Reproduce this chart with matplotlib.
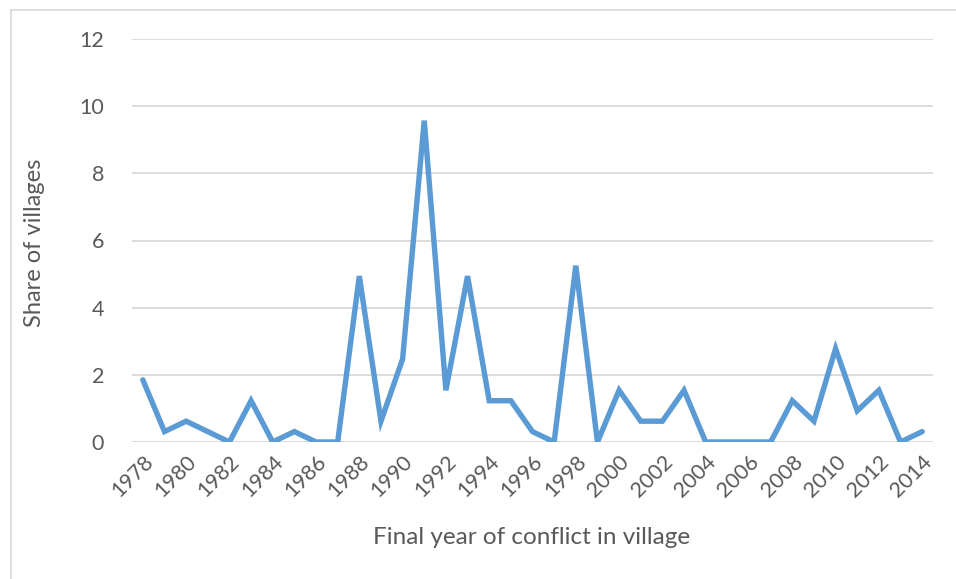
import matplotlib
matplotlib.use("Agg")
import matplotlib.pyplot as plt
from matplotlib.patches import Rectangle

years = list(range(1978, 2015))
share = [1.85, 0.31, 0.62, 0.31, 0.0, 1.23, 0.0, 0.31, 0.0, 0.0,
         4.94, 0.62, 2.47, 9.57, 1.54, 4.94, 1.23, 1.23, 0.31, 0.0,
         5.25, 0.0, 1.54, 0.62, 0.62, 1.54, 0.0, 0.0, 0.0, 0.0,
         1.23, 0.62, 2.78, 0.93, 1.54, 0.0, 0.31]
y_ticks = [0, 2, 4, 6, 8, 10, 12]
x_tick_years = years[::2]

plt.rcParams['font.family'] = ['Lato', 'DejaVu Sans']
text_color = '#595959'

fig = plt.figure(figsize=(9.56, 5.79), dpi=100)
fig.patch.set_facecolor('white')

# chart frame
fig.patches.append(Rectangle((11 / 956, -0.1), 1.2, 1 - 10 / 579 + 0.1,
                             transform=fig.transFigure, fill=False,
                             edgecolor='#d9d9d9', linewidth=1.2))

ax = fig.add_axes([132 / 956, 1 - 442 / 579, (933 - 132) / 956, (442 - 39) / 579])
ax.plot(years, share, color='#5b9bd5', linewidth=3.9,
        solid_joinstyle='miter', solid_capstyle='round', zorder=3)

ax.set_xlim(1977.5, 2014.5)
ax.set_ylim(0, 12)
ax.set_yticks(y_ticks)
ax.set_yticklabels([str(v) for v in y_ticks], fontsize=15.5, color=text_color)
ax.set_xticks(x_tick_years)
ax.set_xticklabels([str(y) for y in x_tick_years], rotation=45, ha='right',
                   rotation_mode='anchor', fontsize=15.5, color=text_color)
ax.tick_params(axis='both', length=0)
ax.tick_params(axis='y', pad=20)
ax.tick_params(axis='x', pad=7)

ax.grid(axis='y', color='#d9d9d9', linewidth=1.3, zorder=0)
ax.set_axisbelow(True)
for s in ax.spines.values():
    s.set_visible(False)

fig.text(532 / 956, 1 - 538 / 579, 'Final year of conflict in village',
         ha='center', va='center', fontsize=17.5, color=text_color)
fig.text(35 / 956, 1 - 243 / 579, 'Share of villages', rotation=90,
         ha='center', va='center', fontsize=17, color=text_color)

fig.savefig('out.png', dpi=100, facecolor='white')
